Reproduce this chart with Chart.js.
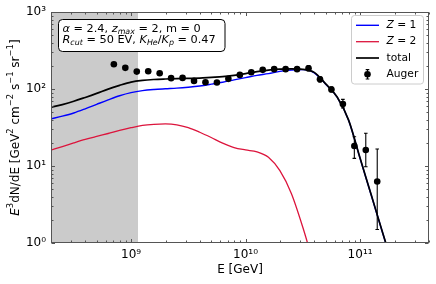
<!DOCTYPE html>
<html>
<head>
<meta charset="utf-8">
<script src="https://cdn.jsdelivr.net/npm/chart.js@4/dist/chart.umd.min.js"></script>
<style>
  html, body { margin: 0; padding: 0; background: #fff; }
</style>
</head>
<body>
<canvas id="spectrum" width="436" height="284"></canvas>
<script>
// log10(E / GeV) grid of the model curves
const logE = [8.3, 8.4, 8.5, 8.6, 8.7, 8.8, 8.9, 9.0, 9.1, 9.2, 9.3, 9.4, 9.5, 9.6, 9.7, 9.8,
              9.9, 10.0, 10.1, 10.2, 10.3, 10.4, 10.5, 10.6, 10.7, 10.8, 10.9, 11.0, 11.1, 11.2, 11.3];
const fluxZ1 = [41, 44.5, 49, 55.5, 63.5, 72.5, 82, 90, 95.5, 98.8, 101, 103, 106, 110, 116, 123,
                132, 141, 151, 159, 170, 177, 179.5, 163, 116, 78.5, 39.3, 12.6, 4.08, 1.31, 0.43];
const fluxZ2 = [16.1, 17.9, 20.0, 22.2, 24.3, 26.5, 29.0, 31.5, 33.8, 34.9, 35.3, 34.4, 31.6, 27.5, 23.5, 19.9,
                17.4, 16.2, 15.3, 13.0, 8.7, 4.4, 1.6, 0.5];
const fluxTotal = [58, 63, 69.5, 78, 88, 100, 112, 123.5, 130, 133.5, 135.5, 137, 138, 139, 142, 145,
                   151, 159, 169, 177, 182, 183, 181, 165, 117, 79, 39.5, 12.7, 4.1, 1.32, 0.43];

// Auger data points
const augerLogE = [8.85, 8.95, 9.05, 9.15, 9.25, 9.35, 9.45, 9.55, 9.65, 9.75, 9.85, 9.95,
                   10.05, 10.15, 10.25, 10.35, 10.45, 10.55, 10.65, 10.75, 10.85, 10.95, 11.05, 11.15];
const augerFlux = [211, 189, 169, 171, 161, 139, 140, 128, 123, 122, 136, 153,
                   166, 178, 182, 182, 182, 187, 134, 99, 64, 18.2, 16.2, 6.3];
const augerLow  = [205, 184, 165, 167, 157, 135, 136, 124, 119, 118, 131, 147,
                   159, 170, 173, 172, 170, 172, 124, 92, 57, 12.6, 9.8, 1.5];
const augerHigh = [217, 194, 173, 175, 165, 143, 144, 132, 127, 126, 141, 159,
                   173, 186, 191, 192, 194, 202, 145, 107, 73.5, 24.1, 26.7, 16.7];

const xTicks = [1e9, 1e10, 1e11];
const yTicks = [1, 10, 100, 1000];
const xRange = [2e8, 4e11];
const yRange = [1, 1000];
const shadeUpTo = 1.15e9;

const FONT = '"DejaVu Sans", sans-serif';
const SUP = {'0':'⁰','1':'¹','2':'²','3':'³','4':'⁴','5':'⁵','6':'⁶','7':'⁷','8':'⁸','9':'⁹'};
function decadeLabel(v) {
  const p = Math.round(Math.log10(v));
  return '10' + String(p).split('').map(d => SUP[d]).join('');
}
function toPoints(ys, xs) {
  return ys.map((y, i) => ({x: Math.pow(10, xs[i]), y: y}));
}

// small rich-text helper for italics, sub- and superscripts
function drawRich(ctx, parts, x, y, size, measureOnly) {
  let cx = x;
  for (const p of parts) {
    const s = (p.sub || p.sup) ? size * 0.7 : size;
    ctx.font = (p.it ? 'italic ' : '') + s + 'px ' + FONT;
    const dy = p.sub ? size * 0.22 : (p.sup ? -size * 0.42 : 0);
    if (!measureOnly) ctx.fillText(p.t, cx, y + dy);
    cx += ctx.measureText(p.t).width;
  }
  return cx - x;
}

const yTitle = [
  {t: 'E', it: true}, {t: '3', sup: true}, {t: 'dN/dE [GeV'}, {t: '2', sup: true},
  {t: ' cm'}, {t: '\u22122', sup: true}, {t: ' s'}, {t: '\u22121', sup: true},
  {t: ' sr'}, {t: '\u22121', sup: true}, {t: ']'}
];
const infoLine1 = [
  {t: 'α', it: true}, {t: ' = 2.4, '}, {t: 'z', it: true}, {t: 'max', it: true, sub: true}, {t: ' = 2, m = 0'}
];
const infoLine2 = [
  {t: 'R', it: true}, {t: 'cut', it: true, sub: true}, {t: ' = 50 EV, '},
  {t: 'K', it: true}, {t: 'He', it: true, sub: true}, {t: '/'},
  {t: 'K', it: true}, {t: 'p', it: true, sub: true}, {t: ' = 0.47'}
];

const shadePlugin = {
  id: 'shade',
  beforeDatasetsDraw(chart) {
    const {ctx, chartArea: a, scales: {x}} = chart;
    const xe = x.getPixelForValue(shadeUpTo);
    ctx.save();
    ctx.fillStyle = '#cbcbcb';
    ctx.fillRect(a.left, a.top, xe - a.left, a.bottom - a.top);
    ctx.restore();
  }
};

const errorPlugin = {
  id: 'errors',
  afterDatasetsDraw(chart) {
    const {ctx, scales: {x, y}} = chart;
    ctx.save();
    ctx.beginPath();
    ctx.rect(chart.chartArea.left, chart.chartArea.top, chart.chartArea.width, chart.chartArea.height);
    ctx.clip();
    ctx.strokeStyle = '#000';
    ctx.lineWidth = 1.1;
    augerLogE.forEach((le, i) => {
      const px = x.getPixelForValue(Math.pow(10, le));
      const y1 = y.getPixelForValue(augerLow[i]);
      const y2 = y.getPixelForValue(augerHigh[i]);
      ctx.beginPath();
      ctx.moveTo(px, y1); ctx.lineTo(px, y2);
      ctx.moveTo(px - 1.8, y1); ctx.lineTo(px + 1.8, y1);
      ctx.moveTo(px - 1.8, y2); ctx.lineTo(px + 1.8, y2);
      ctx.stroke();
    });
    ctx.restore();
  }
};

const framePlugin = {
  id: 'frame',
  afterDraw(chart) {
    const {ctx, chartArea: a, scales: {x, y}} = chart;
    ctx.save();
    ctx.strokeStyle = '#555';
    ctx.lineWidth = 1;
    const L = Math.round(a.left) + 0.5, R = Math.round(a.right) - 0.5;
    const T = Math.round(a.top) + 0.5, B = Math.round(a.bottom) - 0.5;
    ctx.strokeRect(L, T, R - L, B - T);
    ctx.beginPath();
    for (let d = 8; d <= 11; d++) {
      for (let m = 1; m <= 9; m++) {
        const v = m * Math.pow(10, d);
        if (v < xRange[0] || v > xRange[1]) continue;
        const px = Math.round(x.getPixelForValue(v)) + 0.5;
        const len = m === 1 ? 3.5 : 2;
        ctx.moveTo(px, B); ctx.lineTo(px, B - len);
        ctx.moveTo(px, T); ctx.lineTo(px, T + len);
      }
    }
    for (let d = 0; d <= 3; d++) {
      for (let m = 1; m <= 9; m++) {
        const v = m * Math.pow(10, d);
        if (v < yRange[0] || v > yRange[1]) continue;
        const py = Math.round(y.getPixelForValue(v)) + 0.5;
        const len = m === 1 ? 3.5 : 2;
        ctx.moveTo(L, py); ctx.lineTo(L + len, py);
        ctx.moveTo(R, py); ctx.lineTo(R - len, py);
      }
    }
    ctx.stroke();

    // y axis title
    ctx.fillStyle = '#000';
    ctx.textBaseline = 'alphabetic';
    ctx.textAlign = 'left';
    ctx.translate(18.5, (a.top + a.bottom) / 2);
    ctx.rotate(-Math.PI / 2);
    const w = drawRich(ctx, yTitle, 0, 0, 12, true);
    drawRich(ctx, yTitle, -w / 2, 0, 12);
    ctx.restore();

    // parameter box
    ctx.save();
    ctx.fillStyle = '#fff';
    ctx.strokeStyle = '#000';
    ctx.lineWidth = 1;
    ctx.beginPath();
    ctx.roundRect(58.5, 19.5, 166.5, 32, 4);
    ctx.fill();
    ctx.stroke();
    ctx.fillStyle = '#000';
    ctx.textBaseline = 'alphabetic';
    drawRich(ctx, infoLine1, 62.5, 31.5, 11.3);
    drawRich(ctx, infoLine2, 62.5, 43, 11.3);
    ctx.restore();

    // legend
    ctx.save();
    ctx.fillStyle = 'rgba(255,255,255,0.85)';
    ctx.strokeStyle = '#cccccc';
    ctx.beginPath();
    ctx.roundRect(351.5, 15.5, 72, 68.5, 3);
    ctx.fill();
    ctx.stroke();
    const rows = [25.3, 41.7, 58, 74.3];
    const items = chart.data.datasets;
    ctx.textBaseline = 'middle';
    ctx.fillStyle = '#000';
    items.forEach((ds, i) => {
      const yy = rows[i];
      if (ds.showLine) {
        ctx.strokeStyle = ds.borderColor;
        ctx.lineWidth = ds.borderWidth;
        ctx.beginPath();
        ctx.moveTo(356, yy); ctx.lineTo(379, yy);
        ctx.stroke();
      } else {
        ctx.strokeStyle = '#000';
        ctx.lineWidth = 1.1;
        ctx.beginPath();
        ctx.moveTo(367.5, yy - 4.7); ctx.lineTo(367.5, yy + 4.7);
        ctx.moveTo(365.7, yy - 4.7); ctx.lineTo(369.3, yy - 4.7);
        ctx.moveTo(365.7, yy + 4.7); ctx.lineTo(369.3, yy + 4.7);
        ctx.stroke();
        ctx.beginPath();
        ctx.arc(367.5, yy, 3.3, 0, Math.PI * 2);
        ctx.fill();
      }
      ctx.fillStyle = '#000';
      drawRich(ctx, ds.legendParts, 386.5, yy, 10.7);
    });
    ctx.restore();
  }
};

new Chart(document.getElementById('spectrum'), {
  type: 'scatter',
  data: {
    datasets: [
      {
        label: 'Z = 1', legendParts: [{t: 'Z', it: true}, {t: ' = 1'}],
        data: toPoints(fluxZ1, logE), showLine: true, borderColor: '#0000ff', borderWidth: 1.4,
        pointRadius: 0, cubicInterpolationMode: 'monotone', order: 3
      },
      {
        label: 'Z = 2', legendParts: [{t: 'Z', it: true}, {t: ' = 2'}],
        data: toPoints(fluxZ2, logE), showLine: true, borderColor: '#dc143c', borderWidth: 1.3,
        pointRadius: 0, cubicInterpolationMode: 'monotone', order: 2
      },
      {
        label: 'total', legendParts: [{t: 'total'}],
        data: toPoints(fluxTotal, logE), showLine: true, borderColor: '#000000', borderWidth: 1.7,
        pointRadius: 0, cubicInterpolationMode: 'monotone', order: 1
      },
      {
        label: 'Auger', legendParts: [{t: 'Auger'}],
        data: toPoints(augerFlux, augerLogE), showLine: false,
        pointRadius: 3.3, pointBorderWidth: 0, backgroundColor: '#000', borderColor: '#000', order: 0
      }
    ]
  },
  options: {
    responsive: false,
    animation: false,
    events: [],
    layout: { padding: { top: 12, right: 7, left: 0, bottom: 0 } },
    plugins: { legend: { display: false }, tooltip: { enabled: false } },
    scales: {
      x: {
        type: 'logarithmic',
        min: xRange[0], max: xRange[1],
        afterBuildTicks: s => { s.ticks = xTicks.map(v => ({value: v})); },
        afterFit: s => { s.height = 41; },
        grid: { display: false, drawTicks: false },
        border: { display: false },
        ticks: {
          autoSkip: false, maxRotation: 0, padding: 5, color: '#000',
          font: { family: 'DejaVu Sans', size: 12 },
          callback: v => decadeLabel(v)
        },
        title: {
          display: true, text: 'E [GeV]', color: '#000',
          font: { family: 'DejaVu Sans', size: 12 },
          padding: { top: 0, bottom: 7 }
        }
      },
      y: {
        type: 'logarithmic',
        min: yRange[0], max: yRange[1],
        afterBuildTicks: s => { s.ticks = yTicks.map(v => ({value: v})); },
        afterFit: s => { s.width = 51; },
        grid: { display: false, drawTicks: false },
        border: { display: false },
        ticks: {
          autoSkip: false, padding: 5, color: '#000',
          font: { family: 'DejaVu Sans', size: 12 },
          callback: v => decadeLabel(v)
        }
      }
    }
  },
  plugins: [shadePlugin, errorPlugin, framePlugin]
});
</script>
</body>
</html>
